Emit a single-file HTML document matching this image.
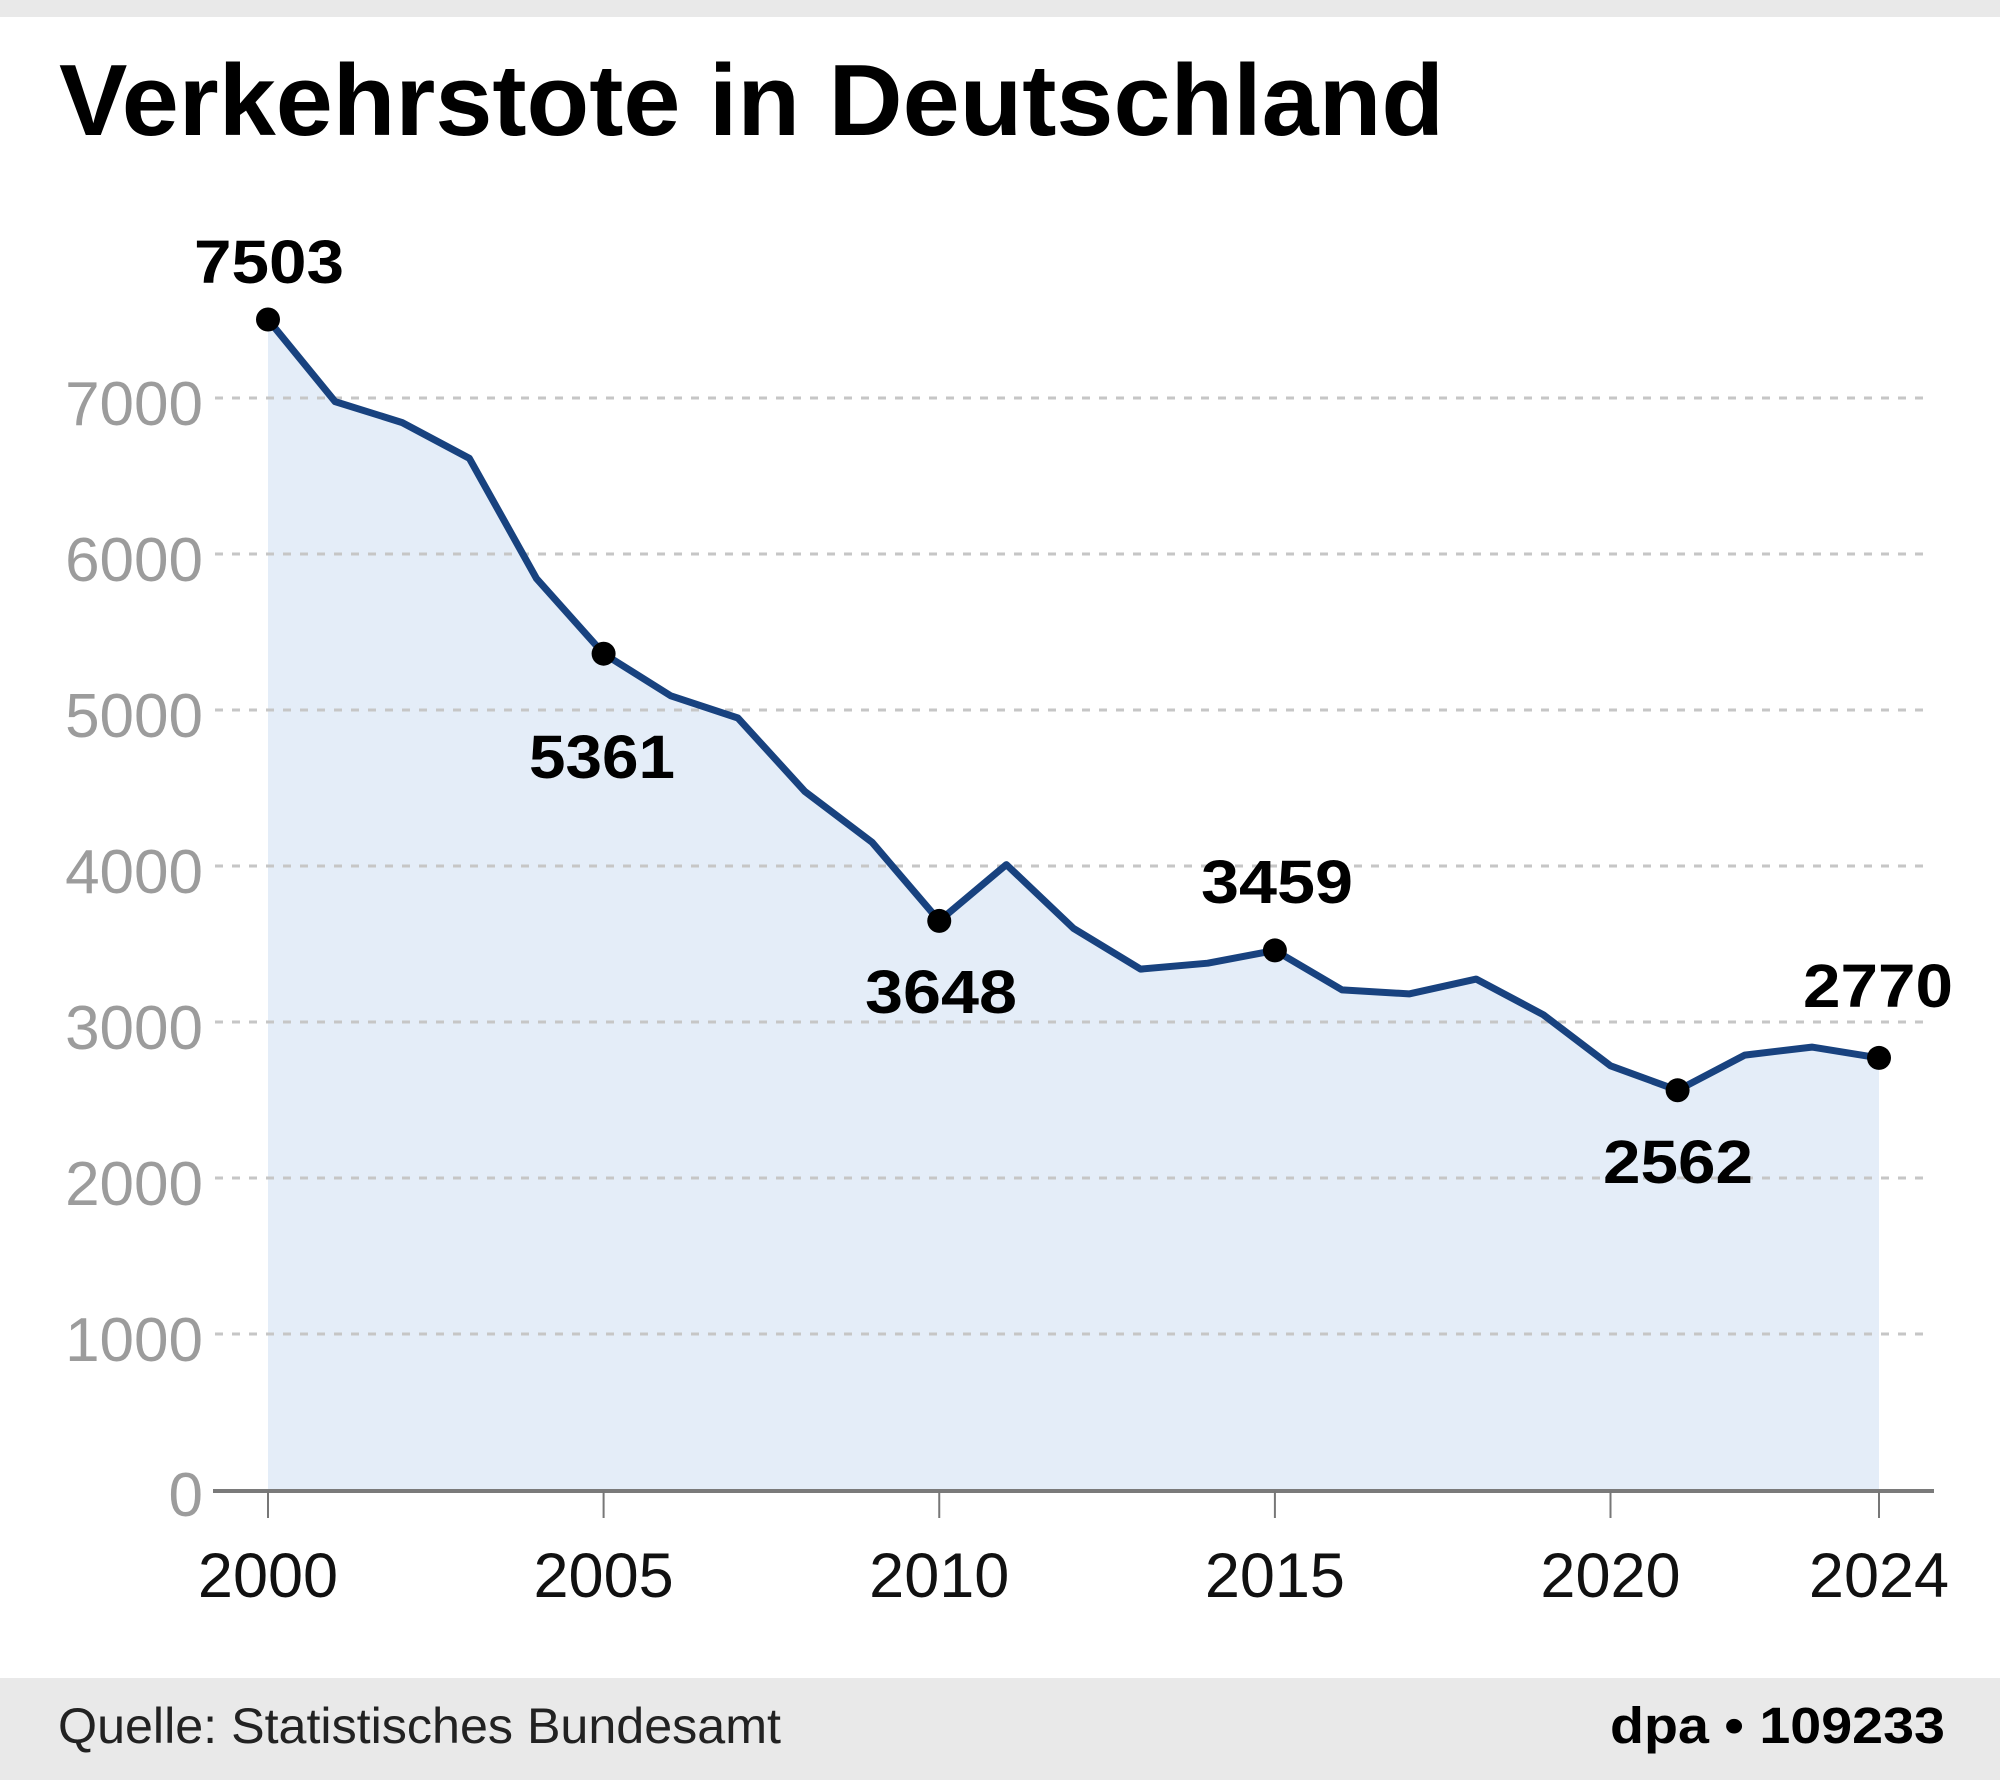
<!DOCTYPE html>
<html>
<head>
<meta charset="utf-8">
<style>
html,body{margin:0;padding:0;background:#fff;}
svg{display:block;}
</style>
</head>
<body>
<svg width="2000" height="1780" viewBox="0 0 2000 1780" xmlns="http://www.w3.org/2000/svg">
  <rect x="0" y="0" width="2000" height="1780" fill="#ffffff"/>
  <rect x="0" y="0" width="2000" height="17" fill="#e9e9e9"/>
  <rect x="0" y="1678" width="2000" height="102" fill="#e9e9e9"/>

  <text x="59" y="135" font-family="Liberation Sans, sans-serif" font-weight="bold" font-size="101" fill="#000" textLength="1385" lengthAdjust="spacingAndGlyphs">Verkehrstote in Deutschland</text>

  <!-- area fill -->
  <polygon fill="#e4edf8" points="268,1490 268,319.5 335.1,401.6 402.25,422.6 469.4,458.4 536.5,578.6 603.6,653.7 670.75,695.8 737.9,718 805,791.6 872.1,842.3 939.25,920.9 1006.4,864.6 1073.5,928.4 1140.6,969.1 1207.75,963.2 1274.9,950.4 1342,989.9 1409.1,993.9 1476.25,979.1 1543.4,1014.8 1610.5,1065.8 1677.6,1090.3 1744.75,1055.1 1811.9,1047.1 1879,1057.9 1879,1490"/>

  <!-- gridlines -->
  <g stroke="#c6c6c6" stroke-width="3" stroke-dasharray="8 9">
    <line x1="215" y1="398" x2="1932" y2="398"/>
    <line x1="215" y1="554" x2="1932" y2="554"/>
    <line x1="215" y1="710" x2="1932" y2="710"/>
    <line x1="215" y1="866" x2="1932" y2="866"/>
    <line x1="215" y1="1022" x2="1932" y2="1022"/>
    <line x1="215" y1="1178" x2="1932" y2="1178"/>
    <line x1="215" y1="1334" x2="1932" y2="1334"/>
  </g>

  <!-- y labels -->
  <g font-family="Liberation Sans, sans-serif" font-size="62" fill="#9c9c9c" text-anchor="end">
    <text x="203" y="425">7000</text>
    <text x="203" y="581">6000</text>
    <text x="203" y="737">5000</text>
    <text x="203" y="893">4000</text>
    <text x="203" y="1049">3000</text>
    <text x="203" y="1205">2000</text>
    <text x="203" y="1361">1000</text>
    <text x="203" y="1516">0</text>
  </g>

  <!-- axis -->
  <line x1="213" y1="1491" x2="1934" y2="1491" stroke="#7a7a7a" stroke-width="4"/>
  <g stroke="#777" stroke-width="2">
    <line x1="268" y1="1491" x2="268" y2="1518"/>
    <line x1="603.6" y1="1491" x2="603.6" y2="1518"/>
    <line x1="939.25" y1="1491" x2="939.25" y2="1518"/>
    <line x1="1274.9" y1="1491" x2="1274.9" y2="1518"/>
    <line x1="1610.5" y1="1491" x2="1610.5" y2="1518"/>
    <line x1="1879" y1="1491" x2="1879" y2="1518"/>
  </g>
  <g font-family="Liberation Sans, sans-serif" font-size="63" fill="#111" text-anchor="middle">
    <text x="268" y="1597">2000</text>
    <text x="603.6" y="1597">2005</text>
    <text x="939.25" y="1597">2010</text>
    <text x="1274.9" y="1597">2015</text>
    <text x="1610.5" y="1597">2020</text>
    <text x="1879" y="1597">2024</text>
  </g>

  <!-- line -->
  <polyline fill="none" stroke="#18427f" stroke-width="7" stroke-linejoin="round" stroke-linecap="round" points="268,319.5 335.1,401.6 402.25,422.6 469.4,458.4 536.5,578.6 603.6,653.7 670.75,695.8 737.9,718 805,791.6 872.1,842.3 939.25,920.9 1006.4,864.6 1073.5,928.4 1140.6,969.1 1207.75,963.2 1274.9,950.4 1342,989.9 1409.1,993.9 1476.25,979.1 1543.4,1014.8 1610.5,1065.8 1677.6,1090.3 1744.75,1055.1 1811.9,1047.1 1879,1057.9"/>

  <!-- dots -->
  <g fill="#000">
    <circle cx="268" cy="319.5" r="12"/>
    <circle cx="603.6" cy="653.7" r="12"/>
    <circle cx="939.25" cy="920.9" r="12"/>
    <circle cx="1274.9" cy="950.4" r="12"/>
    <circle cx="1677.6" cy="1090.3" r="12"/>
    <circle cx="1879" cy="1057.9" r="12"/>
  </g>

  <!-- data labels -->
  <g font-family="Liberation Sans, sans-serif" font-weight="bold" font-size="61" fill="#000" text-anchor="middle">
    <text x="269" y="283" textLength="150" lengthAdjust="spacingAndGlyphs">7503</text>
    <text x="602" y="778" textLength="146" lengthAdjust="spacingAndGlyphs">5361</text>
    <text x="941" y="1013" textLength="152" lengthAdjust="spacingAndGlyphs">3648</text>
    <text x="1277" y="903" textLength="152" lengthAdjust="spacingAndGlyphs">3459</text>
    <text x="1678" y="1183" textLength="150" lengthAdjust="spacingAndGlyphs">2562</text>
    <text x="1878" y="1007" textLength="150" lengthAdjust="spacingAndGlyphs">2770</text>
  </g>

  <!-- footer -->
  <text x="58" y="1743" font-family="Liberation Sans, sans-serif" font-size="50" fill="#222" textLength="723" lengthAdjust="spacingAndGlyphs">Quelle: Statistisches Bundesamt</text>
  <text x="1610" y="1743" font-family="Liberation Sans, sans-serif" font-weight="bold" font-size="51" fill="#000" textLength="335" lengthAdjust="spacingAndGlyphs">dpa • 109233</text>
</svg>
</body>
</html>
